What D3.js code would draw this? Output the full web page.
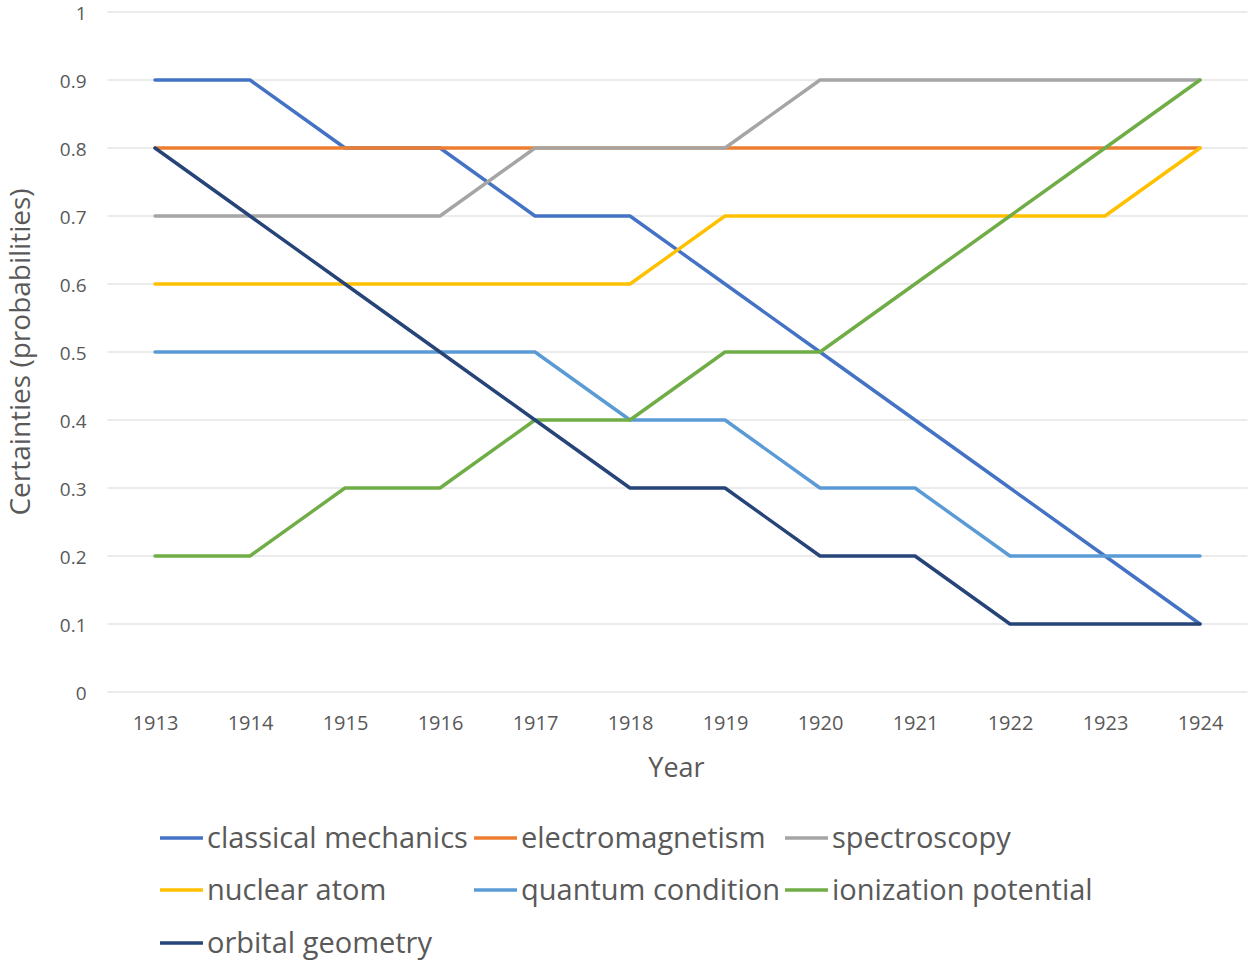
<!DOCTYPE html>
<html><head><meta charset="utf-8">
<script src="https://cdn.jsdelivr.net/npm/d3@7"></script>
<style>body{margin:0;background:#fff}svg{display:block}</style>
</head><body>
<script>
const years = ["1913","1914","1915","1916","1917","1918","1919","1920","1921","1922","1923","1924"];
const yTicks = [0,0.1,0.2,0.3,0.4,0.5,0.6,0.7,0.8,0.9,1];
const seriesNames = ["classical mechanics","electromagnetism","spectroscopy","nuclear atom","quantum condition","ionization potential","orbital geometry"];
const seriesColors = ["#4472C4","#ED7D31","#A5A5A5","#FFC000","#5B9BD5","#70AD47","#264478"];
const classicalMechanics = [0.9,0.9,0.8,0.8,0.7,0.7,0.6,0.5,0.4,0.3,0.2,0.1];
const electromagnetism = [0.8,0.8,0.8,0.8,0.8,0.8,0.8,0.8,0.8,0.8,0.8,0.8];
const spectroscopy = [0.7,0.7,0.7,0.7,0.8,0.8,0.8,0.9,0.9,0.9,0.9,0.9];
const nuclearAtom = [0.6,0.6,0.6,0.6,0.6,0.6,0.7,0.7,0.7,0.7,0.7,0.8];
const quantumCondition = [0.5,0.5,0.5,0.5,0.5,0.4,0.4,0.3,0.3,0.2,0.2,0.2];
const ionizationPotential = [0.2,0.2,0.3,0.3,0.4,0.4,0.5,0.5,0.6,0.7,0.8,0.9];
const orbitalGeometry = [0.8,0.7,0.6,0.5,0.4,0.3,0.3,0.2,0.2,0.1,0.1,0.1];
const seriesValues = [classicalMechanics,electromagnetism,spectroscopy,nuclearAtom,quantumCondition,ionizationPotential,orbitalGeometry];

const W=1254,H=965;
const mLeft=107.5,mRight=1247.5,mTop=12,mBottom=692;
const font="'Open Sans', sans-serif";
const textColor="#595959";

const svg=d3.select("body").append("svg").attr("width",W).attr("height",H);
const x=d3.scalePoint().domain(years).range([mLeft,mRight]).padding(0.5);
const y=d3.scaleLinear().domain([0,1]).range([mBottom,mTop]);

// gridlines
svg.append("g").selectAll("line").data(yTicks).join("line")
  .attr("x1",mLeft).attr("x2",mRight)
  .attr("y1",d=>y(d)).attr("y2",d=>y(d))
  .attr("stroke","#E4E4E4").attr("stroke-width",1.5);

// y axis labels
const yAxis=svg.append("g").attr("transform",`translate(${mLeft-21},1)`)
  .call(d3.axisLeft(y).tickValues(yTicks).tickSize(0).tickPadding(0).tickFormat(d=>d3.format("")(d)));
yAxis.select(".domain").remove();
yAxis.selectAll("text").attr("font-family",font).attr("font-size",19).attr("fill",textColor);

// x axis labels
const xAxis=svg.append("g").attr("transform",`translate(0,${mBottom+24})`)
  .call(d3.axisBottom(x).tickSize(0).tickPadding(0));
xAxis.select(".domain").remove();
xAxis.selectAll("text").attr("font-family",font).attr("font-size",20).attr("fill",textColor);

// axis titles
svg.append("text").attr("x",(mLeft+mRight)/2 - 1).attr("y",777).attr("text-anchor","middle")
  .attr("font-family",font).attr("font-size",27).attr("fill",textColor).text("Year");
svg.append("text").attr("transform",`translate(30,${(mTop+mBottom)/2}) rotate(-90)`).attr("text-anchor","middle")
  .attr("font-family",font).attr("font-size",28).attr("fill",textColor).text("Certainties (probabilities)");

// lines
const line=d3.line().x((d,i)=>x(years[i])).y(d=>y(d));
svg.append("g").selectAll("path").data(seriesValues).join("path")
  .attr("d",d=>line(d)).attr("fill","none")
  .attr("stroke",(d,i)=>seriesColors[i]).attr("stroke-width",3.4)
  .attr("stroke-linejoin","round").attr("stroke-linecap","round");

// legend
const legendPos=[[160,838],[474,838],[785,838],[160,890],[474,890],[785,890],[160,943]];
const lg=svg.append("g").selectAll("g").data(seriesNames).join("g")
  .attr("transform",(d,i)=>`translate(${legendPos[i][0]},${legendPos[i][1]})`);
lg.append("line").attr("x1",0).attr("x2",43).attr("y1",0).attr("y2",0)
  .attr("stroke",(d,i)=>seriesColors[i]).attr("stroke-width",3.4);
lg.append("text").attr("x",47).attr("y",0).attr("dy","0.35em")
  .attr("font-family",font).attr("font-size",29).attr("fill",textColor).text(d=>d);
</script>
</body></html>
